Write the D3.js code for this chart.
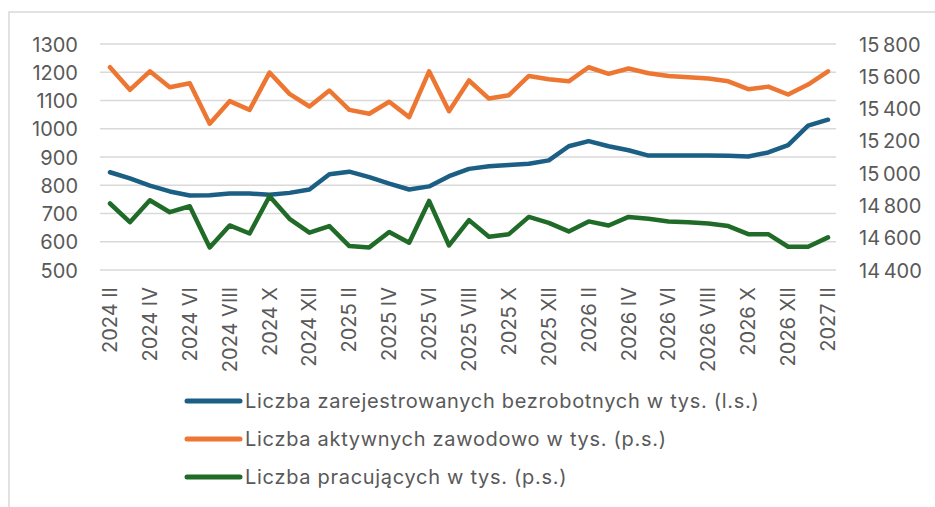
<!DOCTYPE html>
<html lang="pl">
    <head>
        <meta charset="utf-8" />
        <title>Rynek pracy</title>
        <style>
            body { margin: 0; background: #fff; }
            svg text {
                fill: #595959;
                font-family: Inter, sans-serif;
                font-size: 20px;
            }
        </style>
        <script src="https://cdn.jsdelivr.net/npm/d3@7"></script>
    </head>
    <body>
        <script>
            // months Feb 2024 .. Feb 2027
            var months = ['2024 II', '2024 III', '2024 IV', '2024 V', '2024 VI', '2024 VII', '2024 VIII', '2024 IX',
                          '2024 X', '2024 XI', '2024 XII', '2025 I', '2025 II', '2025 III', '2025 IV', '2025 V',
                          '2025 VI', '2025 VII', '2025 VIII', '2025 IX', '2025 X', '2025 XI', '2025 XII', '2026 I',
                          '2026 II', '2026 III', '2026 IV', '2026 V', '2026 VI', '2026 VII', '2026 VIII', '2026 IX',
                          '2026 X', '2026 XI', '2026 XII', '2027 I', '2027 II'];

            var tickLabels = ['2024 II', '2024 IV', '2024 VI', '2024 VIII', '2024 X', '2024 XII',
                              '2025 II', '2025 IV', '2025 VI', '2025 VIII', '2025 X', '2025 XII',
                              '2026 II', '2026 IV', '2026 VI', '2026 VIII', '2026 X', '2026 XII', '2027 II'];

            // l.s.
            var bezrobotni = [846, 824, 799, 778, 764, 765, 771, 771, 766, 773, 785, 839, 848, 829, 806, 785,
                              796, 832, 858, 867, 872, 876, 888, 938, 956, 938, 924, 905, 905, 905, 905, 904,
                              902, 916, 942, 1011, 1032];
            // p.s.
            var aktywni = [15656, 15516, 15631, 15532, 15557, 15306, 15446, 15392, 15623, 15491, 15413, 15512,
                           15392, 15368, 15442, 15347, 15631, 15384, 15574, 15462, 15483, 15602, 15582, 15569,
                           15656, 15615, 15648, 15619, 15602, 15594, 15586, 15569, 15520, 15536, 15487, 15549, 15631];
            var pracujacy = [14812, 14696, 14832, 14758, 14795, 14540, 14676, 14626, 14857, 14717, 14631, 14672,
                             14548, 14540, 14635, 14569, 14828, 14552, 14709, 14606, 14622, 14729, 14692, 14639,
                             14701, 14676, 14729, 14717, 14701, 14696, 14688, 14672, 14622, 14622, 14544, 14544, 14602];

            var leftTicks = [500, 600, 700, 800, 900, 1000, 1100, 1200, 1300];
            var rightTicks = [14400, 14600, 14800, 15000, 15200, 15400, 15600, 15800];

            var series = [
                { name: 'Liczba zarejestrowanych bezrobotnych w tys. (l.s.)', values: bezrobotni, axis: 'left', color: '#1b5f85' },
                { name: 'Liczba aktywnych zawodowo w tys. (p.s.)', values: aktywni, axis: 'right', color: '#ed7732' },
                { name: 'Liczba pracujących w tys. (p.s.)', values: pracujacy, axis: 'right', color: '#1f6b27' }
            ];
            // drawing order: orange, blue, green on top
            var drawOrder = [1, 0, 2];

            var width = 935,
                height = 507;

            var svg = d3.select('body')
                        .append('svg')
                        .attr('width', width)
                        .attr('height', height);

            // chart area border (Excel frame)
            svg.append('rect')
                .attr('x', 9)
                .attr('y', 12)
                .attr('width', 1000)
                .attr('height', 600)
                .attr('fill', 'none')
                .attr('stroke', '#d9d9d9')
                .attr('stroke-width', 1.5);

            var x = d3.scaleBand()
                        .domain(months)
                        .range([100, 838]);

            var yLeft = d3.scaleLinear()
                        .domain([500, 1300])
                        .range([270, 44]);

            var yRight = d3.scaleLinear()
                        .domain([14400, 15800])
                        .range([270, 44]);

            // gridlines
            svg.append('g')
                .selectAll('line')
                .data(leftTicks)
                .enter()
                .append('line')
                .attr('x1', 100)
                .attr('x2', 836)
                .attr('y1', function(d) { return yLeft(d); })
                .attr('y2', function(d) { return yLeft(d); })
                .attr('stroke', '#d9d9d9')
                .attr('stroke-width', 1.5);

            function styleText(sel) {
                sel.style('font-size', '20px')
                    .style('font-family', 'Inter, sans-serif')
                    .attr('fill', '#595959');
            }

            // left axis
            var gl = svg.append('g')
                .attr('transform', 'translate(78, 0)')
                .call(d3.axisLeft(yLeft).tickValues(leftTicks).tickSize(0).tickPadding(0).tickFormat(d3.format('d')));
            gl.select('.domain').remove();
            gl.selectAll('text').attr('dy', '0.35em').call(styleText);

            // right axis
            var fmt = function(d) { return d3.format(',')(d).replace(',', '\u2009'); };
            var gr = svg.append('g')
                .attr('transform', 'translate(859, 0)')
                .call(d3.axisRight(yRight).tickValues(rightTicks).tickSize(0).tickPadding(0).tickFormat(fmt));
            gr.select('.domain').remove();
            gr.selectAll('text').attr('dy', '0.35em').call(styleText);

            // bottom axis, rotated labels
            var gx = svg.append('g')
                .attr('transform', 'translate(0, 282)')
                .call(d3.axisBottom(x).tickValues(tickLabels).tickSize(0).tickPadding(0));
            gx.select('.domain').remove();
            gx.selectAll('text')
                .attr('transform', 'rotate(-90)')
                .attr('text-anchor', 'end')
                .attr('x', -5)
                .attr('y', 0)
                .attr('dy', '0.35em')
                .call(styleText);

            // lines
            drawOrder.forEach(function(k) {
                var s = series[k];
                var yS = s.axis === 'left' ? yLeft : yRight;
                var line = d3.line()
                    .x(function(d, i) { return x(months[i]) + x.bandwidth() / 2; })
                    .y(function(d) { return yS(d); });
                svg.append('path')
                    .datum(s.values)
                    .attr('d', line)
                    .attr('fill', 'none')
                    .attr('stroke', s.color)
                    .attr('stroke-width', 4.5)
                    .attr('stroke-linejoin', 'round')
                    .attr('stroke-linecap', 'round');
            });

            // legend
            var legend = svg.append('g')
                .selectAll('g')
                .data(series)
                .enter()
                .append('g')
                .attr('transform', function(d, i) {
                    return 'translate(187, ' + (401 + i * 38) + ')';
                });

            legend.append('line')
                .attr('x1', 0)
                .attr('x2', 53)
                .attr('stroke', function(d) { return d.color; })
                .attr('stroke-width', 5)
                .attr('stroke-linecap', 'round');

            legend.append('text')
                .attr('x', 58)
                .attr('dy', '0.35em')
                .style('letter-spacing', '0.7px')
                .text(function(d) { return d.name; });
        </script>
    </body>
</html>
